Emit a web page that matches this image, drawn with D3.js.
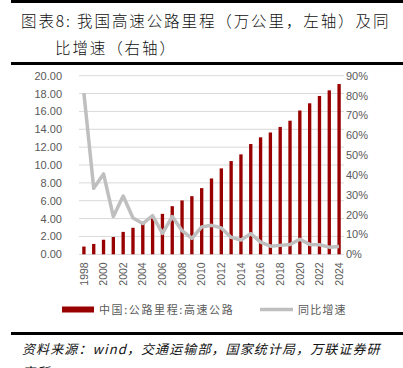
<!DOCTYPE html>
<html><head><meta charset="utf-8">
<script src="https://cdn.jsdelivr.net/npm/d3@7"></script>
<style>body{margin:0;background:#fff}svg{display:block}</style>
</head><body>
<script>
const years = d3.range(1998, 2025).map(String);
const mileage = [0.87,1.16,1.63,1.94,2.51,2.97,3.43,4.10,4.53,5.39,6.03,6.51,7.41,8.49,9.62,10.44,11.19,12.35,13.10,13.64,14.26,14.96,16.10,16.91,17.73,18.36,19.07];
const growth = [81.2,33.3,40.5,19.0,29.4,18.3,15.5,19.5,10.5,19.0,11.9,8.0,13.8,14.6,13.3,8.5,7.2,10.4,6.1,4.1,4.5,4.9,7.6,5.0,4.8,3.6,3.9];
const leftTicks = [0,2,4,6,8,10,12,14,16,18,20];
const rightTicks = [0,10,20,30,40,50,60,70,80,90];
const titleLines = ["图表8: 我国高速公路里程（万公里，左轴）及同","比增速（右轴）"];
const legendLabels = ["中国:公路里程:高速公路","同比增速"];
const sourceText = "资料来源：wind，交通运输部，国家统计局，万联证券研";
const sourceText2 = "究所";

const W=403,H=368;
const svg=d3.select("body").append("svg").attr("width",W).attr("height",H);
const cjk="'Noto Sans CJK SC','Noto Sans',sans-serif";
const num="'Liberation Sans',Arial,sans-serif";

// frame lines
svg.append("rect").attr("x",11).attr("y",0).attr("width",W-11).attr("height",3).attr("fill","#000");
svg.append("rect").attr("x",11).attr("y",62).attr("width",W-11).attr("height",3).attr("fill","#000");
svg.append("rect").attr("x",11).attr("y",332).attr("width",W-11).attr("height",3).attr("fill","#000");

// title
svg.append("text").attr("x",21).attr("y",27).attr("font-family",cjk).attr("font-size",15.5).attr("font-weight",300).attr("letter-spacing",1.9).attr("fill","#111").text(titleLines[0]);
svg.append("text").attr("x",55).attr("y",54).attr("font-family",cjk).attr("font-size",15.5).attr("font-weight",300).attr("letter-spacing",1.9).attr("fill","#111").text(titleLines[1]);

const x=d3.scaleBand().domain(years).range([79,344]).paddingInner(0.66).paddingOuter(0.33);
const yL=d3.scaleLinear().domain([0,20]).range([254.3,75.7]);
const yR=d3.scaleLinear().domain([0,90]).range([254.3,75.7]);

// gridlines
svg.append("g").selectAll("line").data(leftTicks).join("line")
 .attr("x1",79).attr("x2",344).attr("y1",d=>yL(d)).attr("y2",d=>yL(d))
 .attr("stroke","#d9d9d9").attr("stroke-width",1);

// left axis
const gl=svg.append("g").attr("transform","translate(79,0)")
 .call(d3.axisLeft(yL).tickValues(leftTicks).tickFormat(d3.format(".2f")).tickSize(0).tickPadding(17));
gl.select(".domain").remove();
gl.selectAll("text").attr("font-family",num).attr("font-size",11).attr("fill","#595959");

// right axis
const gr=svg.append("g").attr("transform","translate(344,0)")
 .call(d3.axisRight(yR).tickValues(rightTicks).tickFormat(d=>d+"%").tickSize(0).tickPadding(2));
gr.select(".domain").remove();
gr.selectAll("text").attr("font-family",num).attr("font-size",11).attr("fill","#595959");

// bars
svg.append("g").selectAll("rect").data(mileage).join("rect")
 .attr("x",(d,i)=>x(years[i])).attr("width",x.bandwidth())
 .attr("y",d=>yL(d)).attr("height",d=>yL(0)-yL(d)).attr("fill","#990000");

// line
svg.append("path").datum(growth)
 .attr("d",d3.line().x((d,i)=>x(years[i])+x.bandwidth()/2).y(d=>yR(d)))
 .attr("fill","none").attr("stroke","#bfbfbf").attr("stroke-width",3.5).attr("stroke-linejoin","round");

// x axis labels
const gx=svg.append("g").attr("transform","translate(0,254.3)")
 .call(d3.axisBottom(x).tickValues(years.filter((d,i)=>i%2===0)).tickSize(0));
gx.select(".domain").remove();
gx.selectAll("text").attr("font-family",num).attr("font-size",10.5).attr("fill","#595959")
 .attr("transform","rotate(-90)").attr("text-anchor","end").attr("dx","-8").attr("dy","0.35em").attr("y",0).attr("x",0);

// legend
svg.append("rect").attr("x",62).attr("y",306.5).attr("width",32).attr("height",6).attr("fill","#990000");
svg.append("text").attr("x",99).attr("y",313.5).attr("font-family",cjk).attr("font-size",11).attr("letter-spacing",1.6).attr("fill","#595959").text(legendLabels[0]);
svg.append("line").attr("x1",260).attr("x2",293).attr("y1",309.5).attr("y2",309.5).attr("stroke","#bfbfbf").attr("stroke-width",3.5);
svg.append("text").attr("x",298).attr("y",313.5).attr("font-family",cjk).attr("font-size",11).attr("letter-spacing",1.2).attr("fill","#595959").text(legendLabels[1]);

// source
svg.append("text").attr("x",22).attr("y",354).attr("font-family",cjk).attr("font-size",13).attr("font-style","italic").attr("letter-spacing",1.1).attr("fill","#111").text(sourceText);
svg.append("text").attr("x",22).attr("y",377).attr("font-family",cjk).attr("font-size",13).attr("font-style","italic").attr("letter-spacing",1.1).attr("fill","#111").text(sourceText2);
</script>
</body></html>
